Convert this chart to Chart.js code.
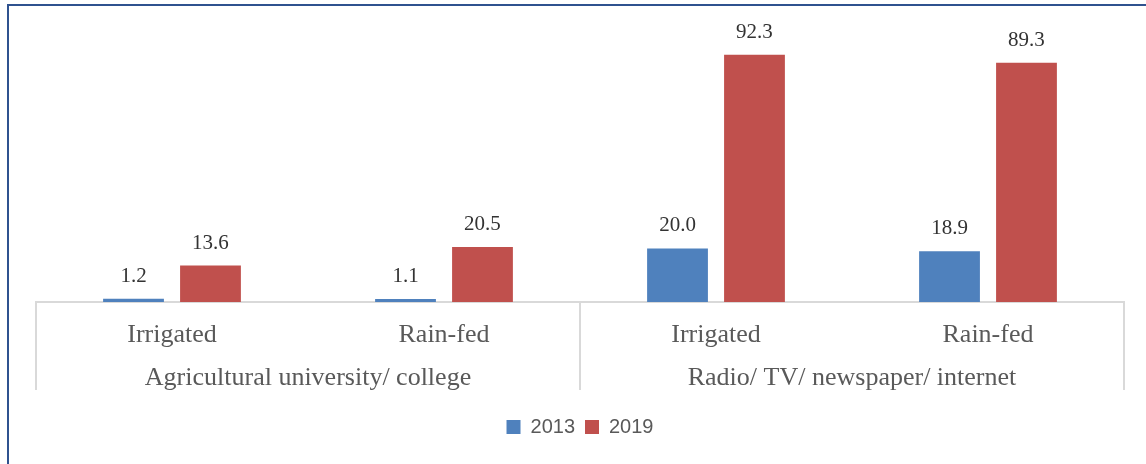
<!DOCTYPE html>
<html>
<head>
<meta charset="utf-8">
<script src="https://cdn.jsdelivr.net/npm/chart.js@4"></script>
<style>
  html, body { margin: 0; padding: 0; background: #fff; }
  #wrap { position: relative; width: 1146px; height: 464px; overflow: hidden; }
  #frame { position: absolute; left: 7px; top: 4px; width: 1200px; height: 600px;
           border-left: 2px solid #2F528F; border-top: 2px solid #2F528F; pointer-events: none; }
  canvas { position: absolute; left: 0; top: 0; }
</style>
</head>
<body>
<div id="wrap">
  <canvas id="chart" width="1146" height="464"></canvas>
  <div id="frame"></div>
</div>
<script>
// Sub-categories along the axis and the groups they belong to
const subLabels = ['Irrigated', 'Rain-fed', 'Irrigated', 'Rain-fed'];
const groupLabels = ['Agricultural university/ college', 'Radio/ TV/ newspaper/ internet'];
const groupSize = 2;

// Series values (%)
const values2013 = [1.2, 1.1, 20.0, 18.9];
const values2019 = [13.6, 20.5, 92.3, 89.3];

const textGrey = '#595959';
const serif = '"Liberation Serif", "Times New Roman", serif';

// value labels above each bar
const barValueLabels = {
    id: 'barValueLabels',
    afterDatasetsDraw(chart) {
        const ctx = chart.ctx;
        ctx.save();
        ctx.font = '21px ' + serif;
        ctx.fillStyle = '#333333';
        ctx.textAlign = 'center';
        ctx.textBaseline = 'alphabetic';
        chart.data.datasets.forEach((ds, i) => {
            chart.getDatasetMeta(i).data.forEach((bar, j) => {
                ctx.fillText(ds.data[j].toFixed(1), bar.x, bar.y - 17);
            });
        });
        ctx.restore();
    }
};

// group labels and the vertical separators under the axis
const groupAxis = {
    id: 'groupAxis',
    afterDraw(chart) {
        const ctx = chart.ctx;
        const x = chart.scales.x;
        const area = chart.chartArea;
        const half = (x.getPixelForValue(1) - x.getPixelForValue(0)) / 2;
        const lineBottom = area.bottom + 88;

        ctx.save();
        ctx.strokeStyle = '#D9D9D9';
        ctx.lineWidth = 2;
        for (let g = 0; g <= groupLabels.length; g++) {
            const idx = Math.min(g * groupSize, subLabels.length - 1);
            let px = x.getPixelForValue(idx) + (g * groupSize >= subLabels.length ? half : -half);
            ctx.beginPath();
            ctx.moveTo(px, area.bottom);
            ctx.lineTo(px, lineBottom);
            ctx.stroke();
        }

        ctx.font = '26px ' + serif;
        ctx.fillStyle = textGrey;
        ctx.textAlign = 'center';
        ctx.textBaseline = 'alphabetic';
        groupLabels.forEach((label, g) => {
            const first = x.getPixelForValue(g * groupSize) - half;
            const last = x.getPixelForValue(g * groupSize + groupSize - 1) + half;
            ctx.fillText(label, (first + last) / 2, area.bottom + 83);
        });
        ctx.restore();
    }
};

const ctx = document.getElementById('chart').getContext('2d');
const chart = new Chart(ctx, {
    type: 'bar',
    data: {
        labels: subLabels,
        datasets: [
            { label: '2013', data: values2013, backgroundColor: '#4F81BD' },
            { label: '2019', data: values2019, backgroundColor: '#C0504D' }
        ]
    },
    options: {
        responsive: false,
        animation: false,
        categoryPercentage: 0.566,
        barPercentage: 0.79,
        layout: { padding: { left: 36, right: 22, top: 34, bottom: 17 } },
        scales: {
            x: {
                grid: { display: false },
                border: { display: true, color: '#D9D9D9', width: 2 },
                ticks: {
                    color: textGrey,
                    font: { family: serif, size: 26 },
                    padding: 10,
                    maxRotation: 0
                },
                afterFit(scale) { scale.height = 105; }
            },
            y: {
                display: false,
                min: 0,
                max: 100
            }
        },
        plugins: {
            legend: {
                position: 'bottom',
                labels: {
                    boxWidth: 14,
                    boxHeight: 14,
                    padding: 10,
                    color: textGrey,
                    font: { family: '"Liberation Sans", Arial, sans-serif', size: 20 }
                }
            },
            tooltip: { enabled: false }
        }
    },
    plugins: [barValueLabels, groupAxis]
});
</script>
</body>
</html>
